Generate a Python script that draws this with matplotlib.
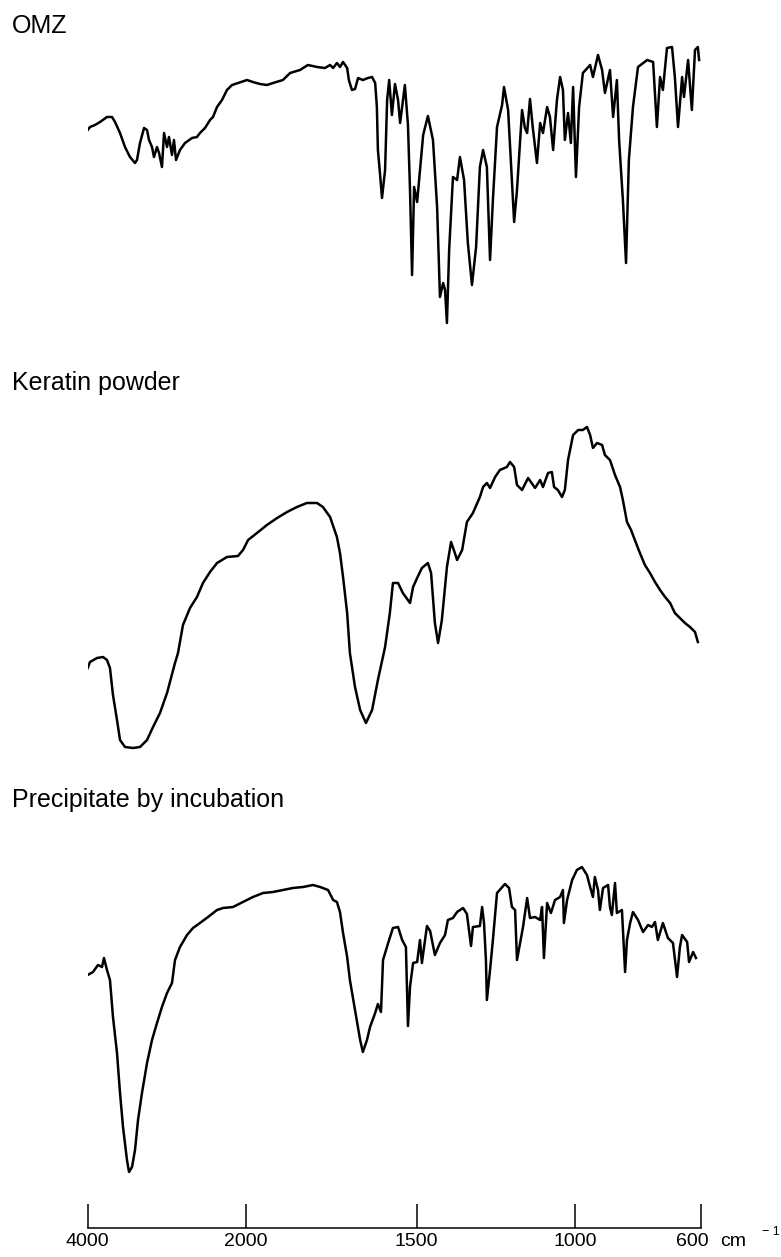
import numpy as np
import matplotlib
matplotlib.use("Agg")
import matplotlib.pyplot as plt

plt.rcParams['font.family'] = ['Liberation Sans', 'DejaVu Sans']

# chart paper: 4000-2000 cm-1 is compressed, below 2000 roughly linear
scale_wn = np.array([600, 1000, 1500, 2000, 4000])
scale_pos = np.array([0, 126, 284.5, 455.3, 613.3])
tick_wn = [4000, 2000, 1500, 1000, 600]
tick_lbl = ['4000', '2000', '1500', '1000', '']

# OMZ spectrum (transmittance, arbitrary units)
omz_wn = [4000, 3971, 3908, 3844, 3756, 3692, 3654, 3591, 3528, 3465,
          3401, 3376, 3338, 3287, 3249, 3224, 3186, 3161, 3123, 3097,
          3060, 3034, 2996, 2971, 2933, 2908, 2882, 2832, 2768, 2680,
          2617, 2579, 2515, 2452, 2414, 2363, 2300, 2237, 2173, 2098,
          1996, 1979, 1958, 1938, 1920, 1891, 1870, 1841, 1818, 1791,
          1768, 1753, 1744, 1733, 1724, 1715, 1703, 1698, 1689, 1680,
          1671, 1657, 1642, 1630, 1621, 1616, 1613, 1607, 1601, 1592,
          1586, 1580, 1572, 1563, 1554, 1548, 1534, 1525, 1519, 1513,
          1507, 1498, 1489, 1479, 1464, 1448, 1435, 1426, 1416, 1410,
          1404, 1397, 1385, 1372, 1363, 1350, 1338, 1325, 1312, 1300,
          1290, 1278, 1268, 1259, 1246, 1230, 1224, 1211, 1199, 1192,
          1183, 1167, 1158, 1151, 1142, 1133, 1120, 1110, 1101, 1088,
          1079, 1069, 1057, 1047, 1038, 1032, 1022, 1013, 1006, 997,
          987, 975, 952, 943, 927, 914, 905, 889, 879, 867,
          860, 848, 838, 829, 816, 800, 771, 752, 740, 730,
          721, 708, 692, 683, 673, 660, 654, 641, 629, 619,
          610, 606]
omz_t = [210, 213, 215, 218, 223, 223, 218, 207, 193, 183,
         177, 180, 197, 212, 210, 200, 193, 183, 193, 187,
         173, 207, 193, 203, 185, 200, 180, 190, 197, 202,
         203, 207, 212, 220, 223, 233, 240, 250, 255, 257,
         260, 258, 256, 255, 257, 260, 267, 270, 275, 273,
         272, 275, 272, 277, 273, 278, 272, 260, 250, 251,
         262, 260, 262, 263, 257, 233, 190, 167, 142, 170,
         240, 260, 225, 256, 240, 217, 255, 215, 150, 65,
         153, 138, 170, 205, 224, 200, 133, 43, 57, 50,
         17, 90, 163, 160, 183, 160, 97, 55, 93, 173,
         190, 173, 80, 140, 213, 235, 253, 230, 160, 118,
         150, 230, 212, 207, 241, 212, 177, 217, 207, 233,
         223, 190, 240, 263, 250, 200, 227, 197, 253, 163,
         233, 267, 275, 263, 285, 270, 247, 270, 223, 260,
         200, 140, 77, 180, 233, 273, 280, 278, 213, 263,
         250, 292, 293, 263, 213, 263, 243, 280, 230, 290,
         293, 280]

# keratin powder
ker_wn = [4000, 3971, 3882, 3806, 3756, 3718, 3680, 3629, 3591, 3528,
          3427, 3338, 3249, 3173, 3085, 2996, 2895, 2857, 2794, 2705,
          2617, 2541, 2452, 2363, 2237, 2098, 2034, 1993, 1967, 1938,
          1908, 1879, 1850, 1821, 1791, 1774, 1753, 1733, 1724, 1715,
          1703, 1695, 1680, 1665, 1648, 1630, 1613, 1592, 1578, 1569,
          1554, 1540, 1519, 1510, 1498, 1483, 1464, 1454, 1442, 1432,
          1420, 1404, 1391, 1379, 1372, 1356, 1341, 1322, 1300, 1290,
          1278, 1268, 1252, 1237, 1215, 1205, 1192, 1183, 1167, 1148,
          1126, 1110, 1101, 1085, 1073, 1066, 1054, 1041, 1032, 1022,
          1006, 990, 975, 962, 952, 943, 930, 914, 905, 889,
          873, 857, 848, 835, 822, 810, 794, 778, 762, 746,
          730, 714, 698, 683, 667, 651, 635, 619, 610]
ker_t = [92, 98, 102, 103, 100, 92, 65, 40, 20, 13,
         12, 13, 20, 33, 47, 67, 97, 107, 135, 152,
         163, 177, 188, 197, 203, 204, 210, 220, 227, 235,
         242, 248, 253, 257, 257, 253, 243, 223, 207, 183,
         147, 107, 73, 50, 37, 50, 80, 113, 147, 177,
         177, 167, 157, 173, 182, 192, 197, 187, 137, 117,
         140, 193, 218, 207, 200, 210, 238, 247, 263, 273,
         277, 272, 283, 290, 293, 298, 293, 275, 270, 282,
         272, 280, 273, 287, 288, 273, 270, 263, 270, 300,
         325, 330, 330, 333, 325, 312, 317, 315, 305, 300,
         285, 273, 260, 238, 230, 220, 207, 195, 187, 178,
         170, 163, 157, 147, 142, 137, 133, 128, 118]

# precipitate after incubation
pre_wn = [4000, 3933, 3870, 3819, 3794, 3756, 3718, 3680, 3629, 3591,
          3553, 3503, 3477, 3439, 3401, 3363, 3313, 3249, 3186, 3123,
          3060, 2996, 2933, 2895, 2832, 2743, 2667, 2579, 2477, 2363,
          2287, 2161, 2034, 1979, 1949, 1920, 1891, 1862, 1832, 1803,
          1782, 1759, 1744, 1733, 1724, 1715, 1703, 1695, 1680, 1665,
          1657, 1645, 1636, 1621, 1613, 1604, 1598, 1583, 1569, 1554,
          1542, 1531, 1525, 1519, 1510, 1498, 1489, 1483, 1467, 1457,
          1442, 1426, 1410, 1401, 1385, 1372, 1353, 1341, 1328, 1322,
          1300, 1293, 1287, 1281, 1278, 1268, 1259, 1246, 1221, 1208,
          1199, 1189, 1183, 1164, 1151, 1142, 1126, 1110, 1104, 1098,
          1088, 1076, 1063, 1047, 1038, 1035, 1025, 1009, 994, 978,
          962, 952, 943, 937, 927, 921, 911, 895, 889, 883,
          873, 867, 851, 841, 835, 825, 816, 800, 784, 768,
          756, 746, 737, 721, 705, 689, 676, 667, 660, 644,
          638, 625, 616]
pre_t = [253, 256, 263, 261, 270, 258, 248, 211, 175, 135,
         101, 68, 56, 61, 78, 108, 135, 165, 188, 205,
         221, 235, 245, 268, 281, 293, 300, 305, 311, 318,
         320, 321, 326, 331, 335, 336, 338, 340, 341, 343,
         341, 338, 328, 326, 316, 295, 271, 248, 218, 188,
         176, 188, 201, 215, 224, 216, 268, 285, 300, 301,
         288, 281, 202, 241, 265, 266, 288, 265, 302, 297,
         273, 285, 293, 308, 310, 316, 320, 314, 282, 301,
         302, 321, 305, 268, 228, 258, 288, 335, 344, 340,
         321, 318, 268, 301, 330, 310, 311, 308, 321, 270,
         325, 315, 328, 331, 338, 305, 328, 348, 358, 361,
         353, 341, 331, 351, 338, 318, 340, 343, 321, 313,
         345, 315, 318, 256, 288, 305, 316, 308, 296, 303,
         301, 306, 288, 305, 290, 285, 251, 281, 293, 286,
         266, 276, 270]


def fwd(w):
    return np.interp(w, scale_wn, scale_pos)


def inv(p):
    return np.interp(p, scale_pos, scale_wn)


W, H = 781, 1257
fig = plt.figure(figsize=(W / 100, H / 100), dpi=100)
x0, x1 = 87.7, 701.0


def panel(top, bottom):
    ax = fig.add_axes([x0 / W, 1 - bottom / H, (x1 - x0) / W, (bottom - top) / H])
    ax.set_xscale('function', functions=(fwd, inv))
    ax.set_xlim(4000, 600)
    ax.set_ylim(0, bottom - top)
    return ax


panels = [
    (panel(40, 340), omz_wn, omz_t, 'OMZ', 33),
    (panel(400, 760), ker_wn, ker_t, 'Keratin powder', 390),
    (panel(830, 1228), pre_wn, pre_t, 'Precipitate by incubation', 807),
]

for ax, wn, t, name, base in panels:
    ax.plot(wn, t, color='black', lw=1.8, solid_joinstyle='round')
    for s in ax.spines.values():
        s.set_visible(False)
    ax.set_yticks([])
    ax.set_xticks([])
    ax.patch.set_visible(False)
    fig.text(12 / W, 1 - base / H, name, fontsize=18, va='baseline', ha='left')

# wavenumber scale under the last spectrum
ax = panels[-1][0]
ax.spines['bottom'].set_visible(True)
ax.spines['bottom'].set_linewidth(1.1)
ax.set_xticks(tick_wn)
ax.set_xticklabels(tick_lbl)
ax.tick_params(axis='x', direction='in', length=17.3, width=1.1, pad=3.5,
               labelsize=14)
# last label sits a little left of its tick, followed by the unit
ax.annotate('600', xy=(600, 0), xycoords=('data', 'axes fraction'),
            xytext=(-6, -3.5), textcoords='offset points',
            ha='center', va='top', fontsize=14)
ax.annotate('cm', xy=(600, 0), xycoords=('data', 'axes fraction'),
            xytext=(14, -3.5), textcoords='offset points',
            ha='left', va='top', fontsize=14)
ax.annotate('\u2212 1', xy=(600, 0), xycoords=('data', 'axes fraction'),
            xytext=(44, 1.5), textcoords='offset points',
            ha='left', va='top', fontsize=9)

fig.savefig('out.png', dpi=100)
